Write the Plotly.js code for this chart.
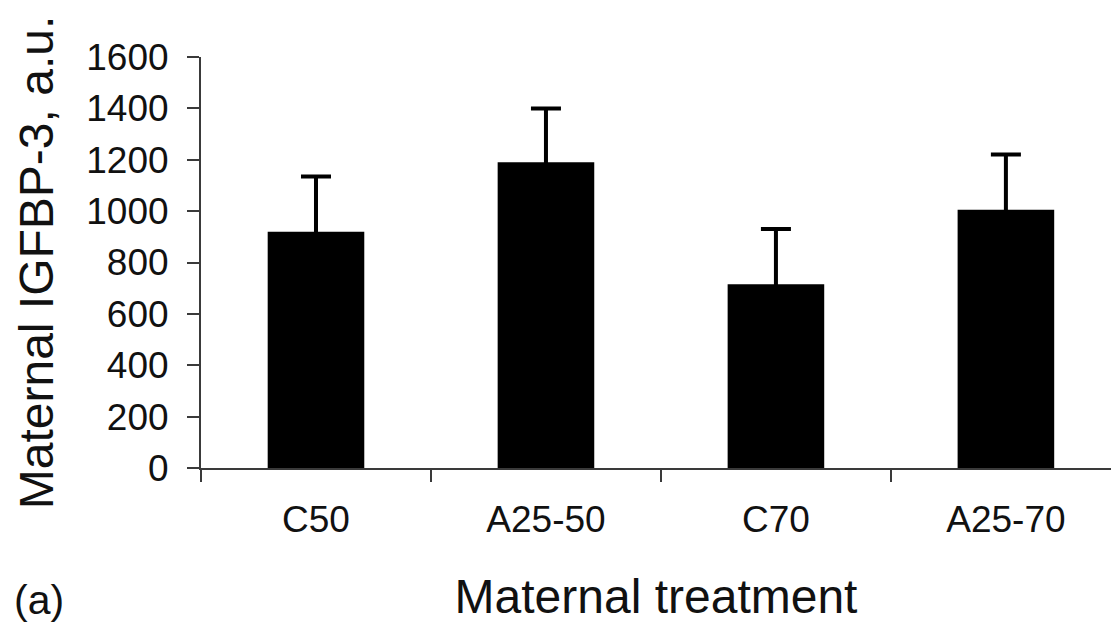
<!DOCTYPE html>
<html>
<head>
<meta charset="utf-8">
<script src="https://cdn.plot.ly/plotly-3.0.1.min.js"></script>
<style>html,body{margin:0;padding:0;background:#fff;overflow:hidden}#chart{width:1111px;height:624px}</style>
</head>
<body>
<div id="chart"></div>
<script>
const categories = ["C50", "A25-50", "C70", "A25-70"];
const means = [920, 1190, 715, 1005];
const errors = [215, 210, 215, 215];
const yTicks = [0, 200, 400, 600, 800, 1000, 1200, 1400, 1600];

const font = "Liberation Sans, Arial, Helvetica, sans-serif";
const axisColor = "#3a3a3a";

const trace = {
  type: "bar",
  x: categories,
  y: means,
  width: 0.42,
  marker: {color: "#000000", line: {width: 0}},
  error_y: {
    type: "data",
    array: errors,
    symmetric: true,
    visible: true,
    color: "#000000",
    thickness: 4,
    width: 15
  },
  hoverinfo: "skip"
};

const layout = {
  width: 1111,
  height: 624,
  margin: {l: 201, r: 0, t: 57, b: 156},
  paper_bgcolor: "#ffffff",
  plot_bgcolor: "#ffffff",
  showlegend: false,
  font: {family: font, color: "#111111"},
  xaxis: {
    type: "category",
    range: [-0.5, 3.457],
    showline: true,
    linecolor: axisColor,
    linewidth: 2,
    ticks: "outside",
    tickson: "boundaries",
    ticklen: 12,
    tickwidth: 2,
    tickcolor: axisColor,
    showgrid: false,
    zeroline: false,
    tickfont: {family: font, size: 37, color: "#111111"},
    ticklabelstandoff: 18,
    title: {text: "Maternal treatment", font: {family: font, size: 48, color: "#111111"}, standoff: 40},
    automargin: false,
    fixedrange: true
  },
  yaxis: {
    range: [0, 1600],
    tickvals: yTicks,
    ticktext: yTicks.map(String),
    showline: true,
    linecolor: axisColor,
    linewidth: 2,
    ticks: "outside",
    ticklen: 12,
    tickwidth: 2,
    tickcolor: axisColor,
    showgrid: false,
    zeroline: false,
    tickfont: {family: font, size: 37, color: "#111111"},
    ticklabelstandoff: 11,
    title: {text: "Maternal IGFBP-3, a.u.", font: {family: font, size: 48, color: "#111111"}, standoff: 17},
    automargin: false,
    fixedrange: true
  },
  annotations: [{
    text: "(a)",
    xref: "paper", yref: "paper",
    x: -0.2077, y: -0.321,
    xanchor: "left", yanchor: "middle",
    showarrow: false,
    font: {family: font, size: 41, color: "#111111"}
  }]
};

Plotly.newPlot("chart", [trace], layout, {displayModeBar: false, staticPlot: true});
</script>
</body>
</html>
